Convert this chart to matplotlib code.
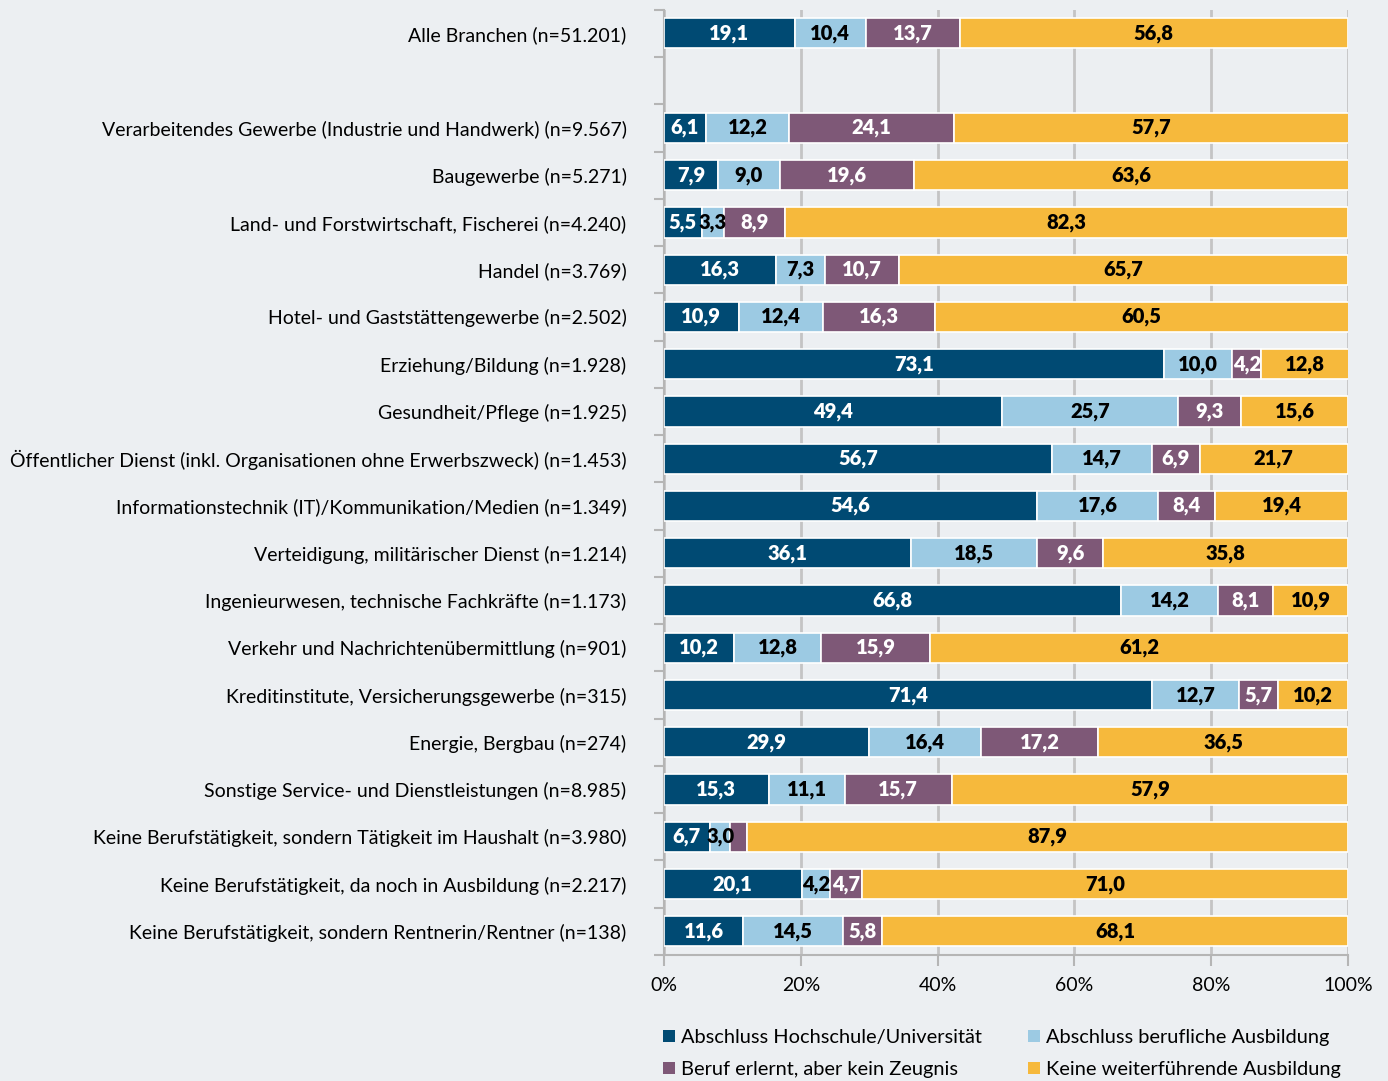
import numpy as np
import matplotlib.pyplot as plt
from matplotlib.patches import Patch

plt.rcParams['font.family'] = ['Lato', 'DejaVu Sans']

categories = [
    'Alle Branchen (n=51.201)',
    '',
    'Verarbeitendes Gewerbe (Industrie und Handwerk) (n=9.567)',
    'Baugewerbe (n=5.271)',
    'Land- und Forstwirtschaft, Fischerei (n=4.240)',
    'Handel (n=3.769)',
    'Hotel- und Gaststättengewerbe (n=2.502)',
    'Erziehung/Bildung (n=1.928)',
    'Gesundheit/Pflege (n=1.925)',
    'Öffentlicher Dienst (inkl. Organisationen ohne Erwerbszweck) (n=1.453)',
    'Informationstechnik (IT)/Kommunikation/Medien (n=1.349)',
    'Verteidigung, militärischer Dienst (n=1.214)',
    'Ingenieurwesen, technische Fachkräfte (n=1.173)',
    'Verkehr und Nachrichtenübermittlung (n=901)',
    'Kreditinstitute, Versicherungsgewerbe (n=315)',
    'Energie, Bergbau (n=274)',
    'Sonstige Service- und Dienstleistungen (n=8.985)',
    'Keine Berufstätigkeit, sondern Tätigkeit im Haushalt (n=3.980)',
    'Keine Berufstätigkeit, da noch in Ausbildung (n=2.217)',
    'Keine Berufstätigkeit, sondern Rentnerin/Rentner (n=138)',
]

hochschule = [19.1, None, 6.1, 7.9, 5.5, 16.3, 10.9, 73.1, 49.4, 56.7, 54.6, 36.1, 66.8, 10.2, 71.4, 29.9, 15.3, 6.7, 20.1, 11.6]
beruflich = [10.4, None, 12.2, 9.0, 3.3, 7.3, 12.4, 10.0, 25.7, 14.7, 17.6, 18.5, 14.2, 12.8, 12.7, 16.4, 11.1, 3.0, 4.2, 14.5]
erlernt = [13.7, None, 24.1, 19.6, 8.9, 10.7, 16.3, 4.2, 9.3, 6.9, 8.4, 9.6, 8.1, 15.9, 5.7, 17.2, 15.7, 2.4, 4.7, 5.8]
keine = [56.8, None, 57.7, 63.6, 82.3, 65.7, 60.5, 12.8, 15.6, 21.7, 19.4, 35.8, 10.9, 61.2, 10.2, 36.5, 57.9, 87.9, 71.0, 68.1]

series_names = ['Abschluss Hochschule/Universität', 'Abschluss berufliche Ausbildung',
                'Beruf erlernt, aber kein Zeugnis', 'Keine weiterführende Ausbildung']
colors = ['#004a73', '#9ccae3', '#7e5877', '#f6b93c']
text_colors = ['white', 'black', 'white', 'black']

bg = '#eceff2'
fig = plt.figure(figsize=(13.88, 10.81), dpi=100, facecolor=bg)
ax = fig.add_axes([0.4784, 0.1166, 0.4928, 0.8744], facecolor=bg)

y = np.arange(len(categories))
left = np.zeros(len(categories))
for vals, col, tcol in zip([hochschule, beruflich, erlernt, keine], colors, text_colors):
    for i, v in enumerate(vals):
        if v is None:
            continue
        ax.barh(y[i], v, left=left[i], height=0.64, color=col,
                edgecolor='white', linewidth=1.2, zorder=3)
        if v >= 3:
            ax.text(left[i] + v / 2, y[i], f'{v:.1f}'.replace('.', ','),
                    ha='center', va='center', color=tcol, fontsize=14.5,
                    fontweight='heavy', zorder=4)
        left[i] += v

ax.set_xlim(0, 100)
ax.set_ylim(len(categories) - 0.5, -0.5)
ax.set_yticks(y)
ax.set_yticklabels(categories, fontsize=14)
ax.set_yticks(np.arange(len(categories) + 1) - 0.5, minor=True)
ax.tick_params(axis='y', which='major', length=0, pad=27)
ax.tick_params(axis='y', which='minor', length=7, color='#b5b5b5', width=1.5)
ax.set_xticks([0, 20, 40, 60, 80, 100])
ax.set_xticklabels(['0%', '20%', '40%', '60%', '80%', '100%'], fontsize=14)
ax.tick_params(axis='x', length=8, color='#b5b5b5', width=1.5, pad=8)
ax.xaxis.grid(True, color='#c4c4c4', linewidth=2, zorder=0)

for s in ['top', 'right']:
    ax.spines[s].set_visible(False)
for s in ['left', 'bottom']:
    ax.spines[s].set_color('#b5b5b5')
    ax.spines[s].set_linewidth(1.5)

handles = [Patch(facecolor=c, edgecolor='none') for c in colors]
order = [0, 2, 1, 3]
fig.legend([handles[k] for k in order], [series_names[k] for k in order],
           ncol=2, loc='lower left', bbox_to_anchor=(0.465, -0.014),
           frameon=False, fontsize=14.4, handlelength=0.6, handleheight=0.6,
           handletextpad=0.3, columnspacing=2.3, labelspacing=0.75)

fig.savefig('out.png', dpi=100, facecolor=bg)
